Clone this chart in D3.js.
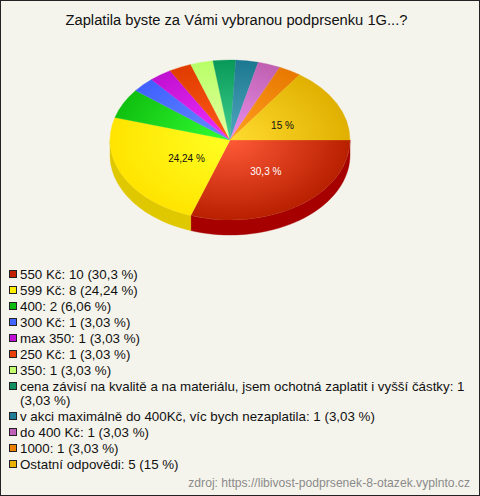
<!DOCTYPE html>
<html><head><meta charset="utf-8">
<script src="https://cdn.jsdelivr.net/npm/d3@7"></script>
<style>html,body{margin:0;padding:0;background:#f5f4ec}svg{display:block}text{font-family:"Liberation Sans",Arial,sans-serif}</style>
</head><body><div id="chart"></div>
<script>
const titleText = "Zaplatila byste za Vámi vybranou podprsenku 1G...?";
const sourceText = "zdroj: https://libivost-podprsenek-8-otazek.vyplnto.cz";
const categories = ["550 Kč","599 Kč","400","300 Kč","max 350","250 Kč","350",
  "cena závisí na kvalitě a na materiálu, jsem ochotná zaplatit i vyšší částky","v akci maximálně do 400Kč, víc bych nezaplatila","do 400 Kč","1000","Ostatní odpovědi"];
const counts = [10,8,2,1,1,1,1,1,1,1,1,5];
const percents = ["30,3 %","24,24 %","6,06 %","3,03 %","3,03 %","3,03 %","3,03 %","3,03 %","3,03 %","3,03 %","3,03 %","15 %"];
const swatchColors = ["#c32000","#ffee00","#10bb10","#4466ff","#c010d8","#e84008","#c4ff70","#109060","#207f98","#c060b8","#ee8000","#e8b000"];
const centerColors = ["#ff5a38","#ffff22","#33ff33","#668cff","#f030ff","#ff5a1a","#e8ffa0","#40d090","#50a8c0","#e890f0","#ffa020","#ffdc30"];
const edgeColors   = ["#b82000","#ffe400","#10c010","#4060ff","#c010d0","#e03c00","#b8ff68","#089858","#1c7890","#c060b0","#e87800","#e0b000"];
const wallColors   = ["#a60000","#e0c800","#0c900c","#3048c0","#900ca0","#a83000","#90c050","#067040","#145a6c","#904888","#b05a00","#a88400"];
const labelledMin = 5;
const wrapLine = {7:"cena závisí na kvalitě a na materiálu, jsem ochotná zaplatit i vyšší částky: 1"};

const W=480,H=496,cx=230,cy=140,R=120,squash=80/120,depth=15;
const svg=d3.select("#chart").append("svg").attr("width",W).attr("height",H);
svg.append("rect").attr("x",.5).attr("y",.5).attr("width",W-1).attr("height",H-1).attr("fill","#f5f4ec").attr("stroke","#222");
svg.append("text").attr("x",236.5).attr("y",25).attr("text-anchor","middle").attr("font-size",14.72).attr("fill","#111").text(titleText);

const arcs=d3.pie().value(d=>d).sort(null).startAngle(Math.PI/2).endAngle(Math.PI/2+2*Math.PI)(counts);
const defs=svg.append("defs");
categories.forEach((c,i)=>{
  const g=defs.append("radialGradient").attr("id","g"+i).attr("gradientUnits","userSpaceOnUse").attr("cx",0).attr("cy",0).attr("r",R);
  g.append("stop").attr("offset","0%").attr("stop-color",centerColors[i]);
  g.append("stop").attr("offset","100%").attr("stop-color",edgeColors[i]);
});
const toXY=(t,dy)=>[cx+R*Math.sin(t),cy-R*squash*Math.cos(t)+dy];
const lineGen=d3.line();
arcs.forEach((a,i)=>{
  const lo=Math.max(a.startAngle,Math.PI/2), hi=Math.min(a.endAngle,Math.PI*1.5);
  if(hi<=lo) return;
  const ts=d3.range(41).map(k=>lo+(hi-lo)*k/40);
  const pts=ts.map(t=>toXY(t,0)).concat(ts.slice().reverse().map(t=>toXY(t,depth)));
  svg.append("path").attr("d",lineGen(pts)+"Z").attr("fill",wallColors[i]).attr("stroke",wallColors[i]).attr("stroke-width",.4);
});
const arcGen=d3.arc().innerRadius(0).outerRadius(R);
const pieTop=svg.append("g").attr("transform",`translate(${cx},${cy}) scale(1,${squash})`);
pieTop.selectAll("path").data(arcs).join("path").attr("d",arcGen).attr("fill",(d,i)=>`url(#g${i})`)
  .attr("stroke",(d,i)=>`url(#g${i})`).attr("stroke-width",.4);

const lab=d3.arc().innerRadius(54).outerRadius(54);
arcs.forEach((a,i)=>{
  if(counts[i]<labelledMin) return;
  const [x,y]=lab.centroid(a);
  svg.append("text").attr("x",cx+4.5+x).attr("y",cy+2+y*squash+3.5).attr("text-anchor","middle").attr("font-size",10)
    .attr("fill",i===0?"#fff":"#111").text(percents[i]);
});

let rowY=274;
categories.forEach((c,i)=>{
  svg.append("rect").attr("x",9.5).attr("y",rowY-3.5).attr("width",7).attr("height",7).attr("fill",swatchColors[i]).attr("stroke","#222");
  const t=`${c}: ${counts[i]} (${percents[i]})`;
  const tx=svg.append("text").attr("x",20).attr("y",rowY+5).attr("font-size",13.33).attr("fill","#111");
  if(wrapLine[i]){
    tx.text(wrapLine[i]);
    rowY+=14;
    svg.append("text").attr("x",20).attr("y",rowY+5).attr("font-size",13.33).attr("fill","#111").text(`(${percents[i]})`);
  } else tx.text(t);
  rowY+=16;
});
svg.append("text").attr("x",470).attr("y",487).attr("text-anchor","end").attr("font-size",12.13).attr("fill","#8a8a8a").text(sourceText);
</script></body></html>
